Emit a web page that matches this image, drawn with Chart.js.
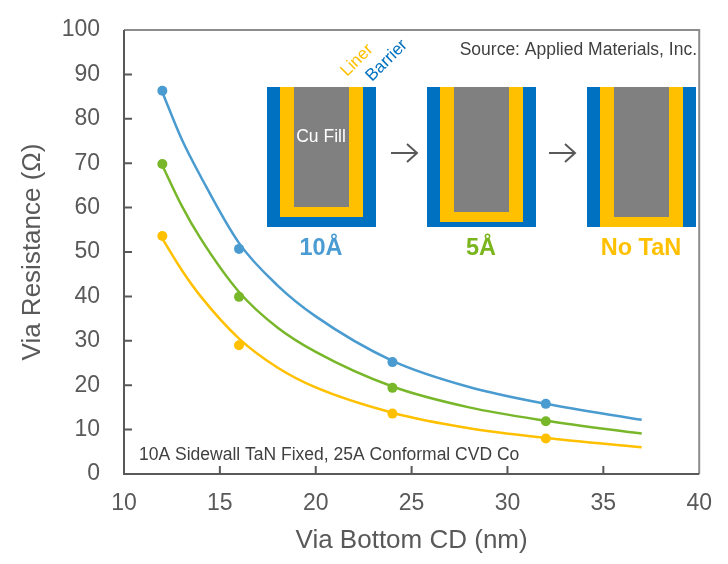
<!DOCTYPE html>
<html>
<head>
<meta charset="utf-8">
<script src="https://cdn.jsdelivr.net/npm/chart.js@4.4.1/dist/chart.umd.min.js"></script>
<style>
  html, body { margin: 0; padding: 0; background: #fff; }
  #wrap { width: 728px; height: 564px; position: relative; }
</style>
</head>
<body>
<div id="wrap"><canvas id="viaChart"></canvas></div>
<script>
'use strict';
/*---- data ----*/
var pointCD = [12, 16, 24, 32];
var tan10Points = [86.3, 50.7, 25.2, 15.8];
var tan5Points = [69.8, 39.9, 19.4, 11.9];
var noTanPoints = [53.6, 29.0, 13.6, 8.0];

var curveCD = [12, 13, 14, 16, 18, 20, 24, 28, 32, 37];
var tan10Curve = [86, 75.5, 67, 52, 42.5, 35.5, 25.5, 19.6, 15.8, 12.2];
var tan5Curve = [69.5, 60.5, 53, 41, 33, 27.5, 19.7, 15, 12, 9.1];
var noTanCurve = [53, 46, 40, 30.5, 24, 19.5, 13.8, 10.3, 8.1, 6.0];

var xTicks = [10, 15, 20, 25, 30, 35, 40];
var yTicks = [0, 10, 20, 30, 40, 50, 60, 70, 80, 90, 100];

var seriesColors = ['#4a9bd0', '#78b72a', '#ffc000'];
var FONT = '"Liberation Sans", Arial, sans-serif';

function xy(xs, ys) {
	return xs.map(function(x, i) { return {x: x, y: ys[i]}; });
}

function curveSet(ys, color) {
	return {
		data: xy(curveCD, ys),
		showLine: true,
		borderColor: color,
		borderWidth: 2.5,
		pointRadius: 0,
		cubicInterpolationMode: 'monotone'
	};
}

function pointSet(ys, color) {
	return {
		data: xy(pointCD, ys),
		backgroundColor: color,
		borderColor: color,
		pointRadius: 5,
		pointBorderWidth: 0
	};
}

/*---- frame, inner ticks, inset sketch ----*/
var decor = {
	id: 'decor',
	afterDraw: function(chart) {
		var c = chart.ctx, a = chart.chartArea;
		var sx = chart.scales.x, sy = chart.scales.y;
		c.save();
		// top + right frame
		c.strokeStyle = '#8c8c8c';
		c.lineWidth = 2;
		c.beginPath();
		c.moveTo(a.left, a.top); c.lineTo(a.right, a.top); c.lineTo(a.right, a.bottom);
		c.stroke();
		// axes
		c.strokeStyle = '#595959';
		c.beginPath();
		c.moveTo(a.left, a.top); c.lineTo(a.left, a.bottom); c.lineTo(a.right, a.bottom);
		c.stroke();
		// inward ticks
		c.beginPath();
		yTicks.slice(1, -1).forEach(function(v) {
			var py = sy.getPixelForValue(v);
			c.moveTo(a.left, py); c.lineTo(a.left + 8, py);
		});
		xTicks.slice(1, -1).forEach(function(v) {
			var px = sx.getPixelForValue(v);
			c.moveTo(px, a.bottom); c.lineTo(px, a.bottom - 8);
		});
		c.stroke();

		// via sketches
		var vias = [
			{x: 267, gray: 207, liner: 217, barrier: 227},
			{x: 427, gray: 212, liner: 222, barrier: 227},
			{x: 587, gray: 217, liner: 227, barrier: null}
		];
		vias.forEach(function(v) {
			var top = 87;
			c.fillStyle = '#0070c0';
			c.fillRect(v.x, top, 109, (v.barrier || v.liner) - top);
			c.fillStyle = '#ffc000';
			c.fillRect(v.x + 13, top, 83, v.liner - top);
			c.fillStyle = '#808080';
			c.fillRect(v.x + 27, top, 55, v.gray - top);
		});

		// arrows
		c.strokeStyle = '#595959';
		c.lineWidth = 2;
		[404, 562].forEach(function(cx) {
			var cy = 153;
			c.beginPath();
			c.moveTo(cx - 13, cy); c.lineTo(cx + 12, cy);
			c.moveTo(cx + 3, cy - 9); c.lineTo(cx + 13, cy); c.lineTo(cx + 3, cy + 9);
			c.stroke();
		});

		c.textAlign = 'center';
		c.textBaseline = 'middle';
		c.fillStyle = '#ffffff';
		c.font = '17.5px ' + FONT;
		c.fillText('Cu Fill', 321, 137);

		c.font = 'bold 23.5px ' + FONT;
		c.fillStyle = '#4b9cd3';
		c.fillText('10Å', 321, 249);
		c.fillStyle = '#7ab51d';
		c.fillText('5Å', 481, 249);
		c.fillStyle = '#ffc000';
		c.fillText('No TaN', 641, 249);

		// rotated labels
		c.font = '17px ' + FONT;
		c.textAlign = 'left';
		c.textBaseline = 'alphabetic';
		c.save();
		c.translate(347, 77);
		c.rotate(-Math.PI / 4);
		c.fillStyle = '#ffc000';
		c.fillText('Liner', 0, 0);
		c.restore();
		c.save();
		c.translate(372, 82);
		c.rotate(-Math.PI / 4);
		c.fillStyle = '#0070c0';
		c.fillText('Barrier', 0, 0);
		c.restore();

		// notes
		c.fillStyle = '#404040';
		c.font = '17.5px ' + FONT;
		c.textAlign = 'right';
		c.textBaseline = 'middle';
		c.fillText('Source: Applied Materials, Inc.', 697, 50);
		c.textAlign = 'left';
		c.fillText('10A Sidewall TaN Fixed, 25A Conformal CVD Co', 139, 455);
		c.restore();
	}
};

var chart = new Chart(document.getElementById('viaChart'), {
	type: 'scatter',
	data: {
		datasets: [
			curveSet(tan10Curve, seriesColors[0]),
			curveSet(tan5Curve, seriesColors[1]),
			curveSet(noTanCurve, seriesColors[2]),
			pointSet(tan10Points, seriesColors[0]),
			pointSet(tan5Points, seriesColors[1]),
			pointSet(noTanPoints, seriesColors[2])
		]
	},
	options: {
		responsive: true,
		maintainAspectRatio: false,
		animation: false,
		layout: { padding: { left: 0, top: 30, right: 27, bottom: 0 } },
		plugins: {
			legend: { display: false },
			tooltip: { enabled: false }
		},
		scales: {
			x: {
				type: 'linear',
				min: 10,
				max: 40,
				afterFit: function(s) { s.height = 90; },
				afterBuildTicks: function(s) { s.ticks = xTicks.map(function(v) { return {value: v}; }); },
				grid: { display: false, drawTicks: false },
				border: { display: false },
				ticks: { color: '#595959', padding: 16, font: { family: FONT, size: 23 } },
				title: {
					display: true,
					text: 'Via Bottom CD (nm)',
					color: '#595959',
					font: { family: FONT, size: 26 },
					padding: { top: 0, bottom: 8 }
				}
			},
			y: {
				type: 'linear',
				min: 0,
				max: 100,
				afterFit: function(s) {
					s.width = 124;
					s.paddingTop = 10;
					s.paddingBottom = 10;
				},
				afterBuildTicks: function(s) { s.ticks = yTicks.map(function(v) { return {value: v}; }); },
				grid: { display: false, drawTicks: false },
				border: { display: false },
				ticks: { color: '#595959', padding: 24, font: { family: FONT, size: 23 } },
				title: {
					display: true,
					text: 'Via Resistance (Ω)',
					color: '#595959',
					font: { family: FONT, size: 26 },
					padding: { top: 17, bottom: 0 }
				}
			}
		}
	},
	plugins: [decor]
});
</script>
</body>
</html>
